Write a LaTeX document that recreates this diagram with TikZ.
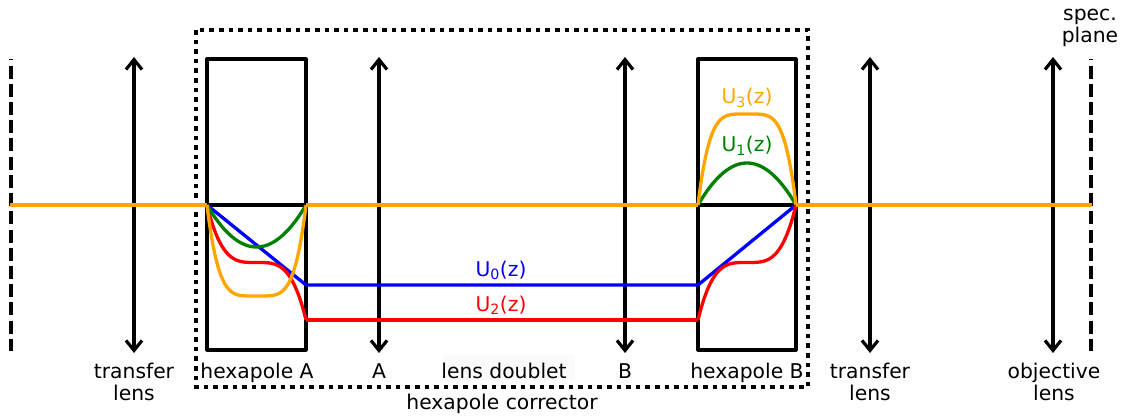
\documentclass[tikz,border=0pt]{standalone}
\usepackage{fontspec}
\setmainfont{DejaVu Sans}
\usetikzlibrary{arrows.meta}
\definecolor{uorange}{RGB}{255,165,0}
\definecolor{ugreen}{RGB}{0,128,0}
\tikzset{
  lbl/.style={inner sep=0pt,align=center,anchor=base,font=\fontsize{20.3}{22.5}\selectfont},
  lens/.style={line width=3.2pt,{Straight Barb[length=10pt,width=16pt,line width=3.2pt]}-{Straight Barb[length=10pt,width=16pt,line width=3.2pt]}},
  plane/.style={line width=3.2pt,dash pattern=on 13pt off 5.2pt},
  hexbox/.style={draw,line width=3.2pt,line join=round},
  corr/.style={line width=3.2pt,dash pattern=on 4.6pt off 5pt},
  pot/.style={line width=3.3pt,line join=round},
  under/.style={line width=3.8pt},
  over/.style={line width=3.1pt,uorange},
}
\begin{document}
\begin{tikzpicture}[x=1pt,y=-1pt]
\useasboundingbox (0,0) rectangle (1128,417);
% coordinates
\coordinate (L0) at (10,205); \coordinate (R0) at (1092,205);
\coordinate (Al) at (207,205); \coordinate (Ar) at (306,205);
\coordinate (Bl) at (698,205); \coordinate (Br) at (796,205);
\coordinate (A0) at (306,285); \coordinate (B0) at (698,285);
\coordinate (A2) at (306,320); \coordinate (B2) at (698,320);
% faint label backing
\fill[white!98!black] (443,355) rectangle (575,380);
% boxes
\node[hexbox,minimum width=99pt,minimum height=291pt,inner sep=0pt] (hexA) at (256.5,204.5) {};
\node[hexbox,minimum width=98pt,minimum height=291pt,inner sep=0pt] (hexB) at (747,204.5) {};
\draw[corr] (196,30) rectangle (808,387);
% planes
\coordinate (p1t) at (11,59.5); \coordinate (p1b) at (11,351);
\coordinate (p2t) at (1091,59.5); \coordinate (p2b) at (1091,351);
\draw[plane,dash phase=12pt] (p1t) -- (p1b);
\draw[plane,dash phase=12pt] (p2t) -- (p2b);
% lenses
\foreach \n/\x in {a/134,b/379,c/625,d/870,e/1053}{
  \coordinate (\n t) at (\x,57); \coordinate (\n b) at (\x,353);
  \draw[lens] (\n t) -- (\n b);
}
% axis
\draw[line width=3.2pt] (Al) -- (Ar);
\draw[line width=3.2pt] (Bl) -- (Br);
% straight parts beneath the orange
\draw[under,red] (L0) -- (Al);
\draw[under,red] (Br) -- (R0);
\draw[under,ugreen] (Ar) -- (Bl);
% U0
\draw[pot,blue] (Al) -- (A0) -- (B0) -- (Br);
% U2
\draw[pot,red] plot[domain=0:1,samples=101,smooth] ({207+99*\x},{205+57.5*(1+(\x<0.5?-1:1)*pow(abs(2*\x-1),3.5))});
\draw[pot,red] (A2) -- (B2);
\draw[pot,red] plot[domain=0:1,samples=101,smooth] ({698+98*\x},{320-57.5*(1+(\x<0.5?-1:1)*pow(abs(2*\x-1),3.5))});
% U1
\draw[pot,ugreen] plot[domain=0:1,samples=61,smooth] ({207+99*\x},{205+42*(1-pow(2*\x-1,2))});
\draw[pot,ugreen] plot[domain=0:1,samples=61,smooth] ({698+98*\x},{205-42*(1-pow(2*\x-1,2))});
% U3
\draw[pot,uorange] plot[domain=0:1,samples=101,smooth] ({207+99*\x},{205+91*(1-pow(abs(2*\x-1),4.5))});
\draw[pot,uorange] plot[domain=0:1,samples=101,smooth] ({698+98*\x},{205-91*(1-pow(abs(2*\x-1),4.5))});
\draw[over] (L0) -- (Al);
\draw[over] (Ar) -- (Bl);
\draw[over] (Br) -- (R0);
% labels
\node[lbl] (t1) at (134,400.5) {transfer\\lens};
\node[lbl] (hA) at (257,378) {hexapole A};
\node[lbl] (lA) at (379,378) {A};
\node[lbl] (ld) at (504,378) {lens doublet};
\node[lbl] (lB) at (625,378) {B};
\node[lbl] (hB) at (747,378) {hexapole B};
\node[lbl] (t2) at (870,400.5) {transfer\\lens};
\node[lbl] (ob) at (1054,400.5) {objective\\lens};
\node[lbl] (hc) at (502,409.5) {hexapole corrector};
\node[lbl] (sp) at (1090,43) {spec.\\plane};
\newcommand{\Ulab}[1]{U\textsubscript{#1}(z)}
\node[lbl,text=blue] (u0) at (501,276) {\Ulab{0}};
\node[lbl,text=red] (u2) at (501,311) {\Ulab{2}};
\node[lbl,text=uorange] (u3) at (747,104) {\Ulab{3}};
\node[lbl,text=ugreen] (u1) at (747,152) {\Ulab{1}};
\end{tikzpicture}
\end{document}
